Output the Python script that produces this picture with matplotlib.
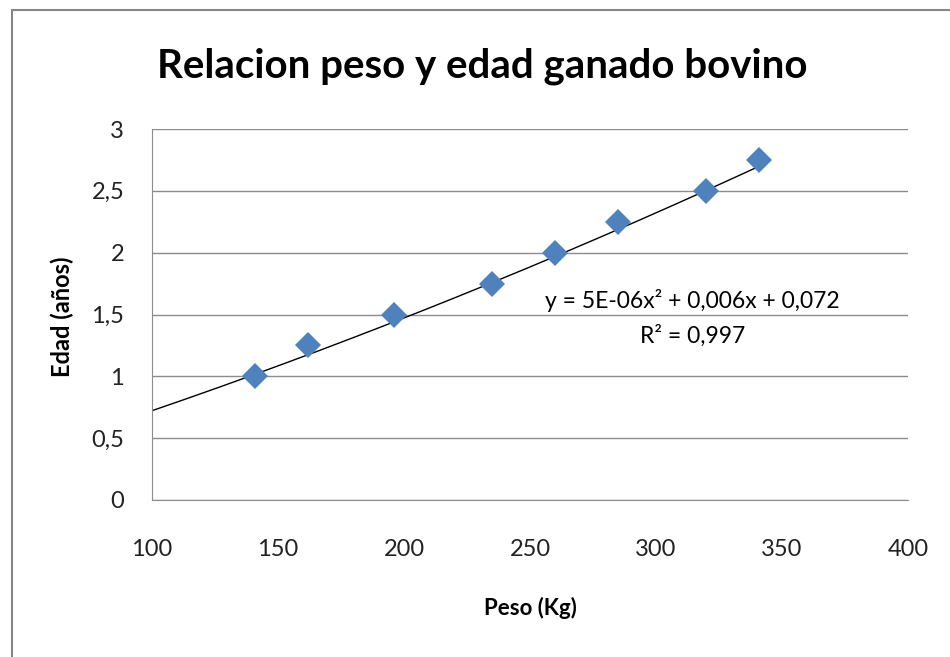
import matplotlib.pyplot as plt
import numpy as np
from matplotlib.patches import Rectangle

# data
peso = np.array([141, 162, 196, 235, 260, 285, 320, 341])
edad = np.array([1.0, 1.25, 1.5, 1.75, 2.0, 2.25, 2.5, 2.75])
coef = [5e-06, 0.006, 0.072]  # polynomial trendline shown on chart
x_ticks = [100, 150, 200, 250, 300, 350, 400]
y_ticks = [0, 0.5, 1, 1.5, 2, 2.5, 3]
y_labels = ["0", "0,5", "1", "1,5", "2", "2,5", "3"]

plt.rcParams['font.family'] = ['Lato', 'DejaVu Sans']

fig = plt.figure(figsize=(9.5, 6.57), dpi=100)
ax = fig.add_axes([152/950, 1 - 500/657, (908-152)/950, (500-129)/657])

# outer chart frame
fig.patches.append(Rectangle((12/950, -0.01), 1.0, 1 - 10/657 + 0.01,
                             transform=fig.transFigure, fill=False,
                             edgecolor='#868686', lw=1.5))

ax.grid(axis='y', color='#8c8c8c', lw=1)
ax.set_axisbelow(True)

xs = np.linspace(100, peso.max(), 200)
ax.plot(xs, np.polyval(coef, xs), color='black', lw=1)
ax.plot(peso, edad, 'D', color='#4F81BD', markersize=13, markeredgewidth=0)

ax.set_xlim(100, 400)
ax.set_ylim(0, 3)
ax.set_xticks(x_ticks)
ax.set_yticks(y_ticks)
ax.set_yticklabels(y_labels)
ax.tick_params(length=0, labelsize=17, colors='#222222')
ax.tick_params(axis='x', pad=28)
ax.tick_params(axis='y', pad=20)

for s in ['top', 'right']:
    ax.spines[s].set_visible(False)
for s in ['left', 'bottom']:
    ax.spines[s].set_color('#8c8c8c')

fig.text(692/950, 1 - 300/657, "y = 5E-06x\u00b2 + 0,006x + 0,072", ha='center', va='center', fontsize=16.5)
fig.text(693/950, 1 - 336/657, "R\u00b2 = 0,997", ha='center', va='center', fontsize=16.5)

fig.text(482/950, 1 - 66/657, "Relacion peso y edad ganado bovino", ha='center', va='center',
         fontsize=29, fontweight='bold')
fig.text(530/950, 1 - 608/657, "Peso (Kg)", ha='center', va='center', fontsize=16, fontweight='bold')
fig.text(62/950, 1 - 317/657, "Edad (años)", ha='center', va='center', rotation=90,
         fontsize=17, fontweight='bold')

fig.savefig('out.png', dpi=100)
